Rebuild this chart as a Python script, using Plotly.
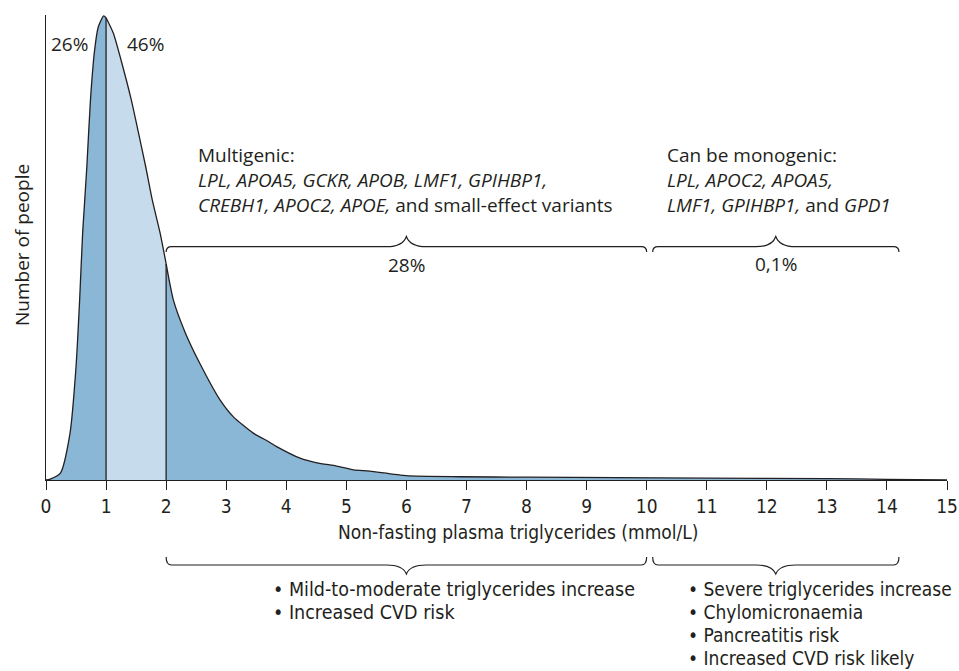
import plotly.graph_objects as go

# ---- data ----
tg_mmol = [0, 0.07, 0.24, 0.40, 0.50, 0.56, 0.61, 0.68, 0.74, 0.81, 0.87, 0.96, 1.0,
           1.12, 1.28, 1.42, 1.54, 1.66, 1.77, 1.90, 2.0, 2.12, 2.32, 2.59, 2.90, 3.12,
           3.45, 3.70, 3.84, 4.23, 4.51, 4.84, 5.12, 5.39, 6.0, 6.89, 8.0, 9.5, 11.0,
           13.0, 14.0, 15.0]
people = [0, 0.2, 1.5, 10.1, 24.4, 38.8, 53.2, 67.5, 81.9, 92.7, 97.6, 100, 99.6,
          96.3, 89.0, 81.9, 74.8, 67.5, 60.3, 53.2, 46.6, 38.8, 31.7, 24.4, 17.2, 13.6,
          10.1, 8.3, 7.2, 4.7, 3.7, 3.0, 2.2, 1.9, 0.93, 0.7, 0.6, 0.5, 0.4,
          0.28, 0.15, 0]
band_edges = [0, 1, 2, 15]
band_shares = ["26%", "46%", "28%"]
band_colors = ["#8bb7d6", "#c6dcec", "#8bb7d6"]
tick_vals = list(range(0, 16))
brace_ranges = [(2.0, 10.0), (10.1, 14.2)]
brace_shares = ["28%", "0,1%"]

INK = "#231f20"
REG = "Open Sans, Noto Sans, sans-serif"
NAR = "Liberation Sans Narrow, DejaVu Sans Condensed, Arial Narrow, sans-serif"

fig = go.Figure()

# filled bands
for i in range(len(band_edges) - 1):
    lo, hi = band_edges[i], band_edges[i + 1]
    xs = [x for x in tg_mmol if lo <= x <= hi]
    ys = [y for x, y in zip(tg_mmol, people) if lo <= x <= hi]
    fig.add_trace(go.Scatter(x=xs, y=ys, mode="lines", fill="tozeroy",
                             fillcolor=band_colors[i],
                             line=dict(color=INK, width=1.3, shape="spline", smoothing=0.6),
                             hoverinfo="skip", showlegend=False))

# vertical separators at band edges
for e in band_edges[1:-1]:
    h = people[tg_mmol.index(e)]
    fig.add_trace(go.Scatter(x=[e, e], y=[0, h], mode="lines",
                             line=dict(color=INK, width=1.3),
                             hoverinfo="skip", showlegend=False))

L, R, T, B = 46, 12, 15, 191
W, H = 959, 671
pw, ph = W - L - R, H - T - B


def xp(px):
    return (px - L) / pw


def yp(py):
    return (H - B - py) / ph


def brace(x0, x1, yl, ye, yt):
    xm = (x0 + x1) / 2
    r = 0.09
    tw = 0.33
    ym = (yl + yt) / 2
    return (f"M {x0},{ye} Q {x0},{yl} {x0 + r},{yl} L {xm - tw},{yl} "
            f"C {xm - tw * 0.35},{yl} {xm - 0.03},{ym} {xm},{yt} "
            f"C {xm + 0.03},{ym} {xm + tw * 0.35},{yl} {xm + tw},{yl} "
            f"L {x1 - r},{yl} Q {x1},{yl} {x1},{ye}")


shapes = []
for (a, b) in brace_ranges:
    # upper brace (tip up)
    shapes.append(dict(type="path", xref="x", yref="paper",
                       path=brace(a, b, yp(246.7), yp(252), yp(236.5)),
                       line=dict(color=INK, width=1.2)))
    # lower brace (tip down)
    shapes.append(dict(type="path", xref="x", yref="paper",
                       path=brace(a, b, yp(565), yp(557), yp(574)),
                       line=dict(color=INK, width=1.2)))

ann = []


def text(s, x, y, size=19, fam=REG, xanchor="left", **kw):
    ann.append(dict(text=s, x=x, y=y, xref="paper", yref="paper", showarrow=False,
                    xanchor=xanchor, yanchor="middle",
                    font=dict(family=fam, size=size, color=INK), **kw))


# band share labels
text(band_shares[0], xp(69), yp(44), xanchor="center")
text(band_shares[1], xp(145), yp(44), xanchor="center")
for (a, b), s, py in zip(brace_ranges, brace_shares, [265, 264]):
    ann.append(dict(text=s, x=(a + b) / 2, y=yp(py), xref="x", yref="paper",
                    showarrow=False, xanchor="center", yanchor="middle",
                    font=dict(family=REG, size=19, color=INK)))

# gene lists
text("Multigenic:", xp(196), yp(155))
text("<i>LPL, APOA5, GCKR, APOB, LMF1, GPIHBP1,</i>", xp(196), yp(180))
text("<i>CREBH1, APOC2, APOE,</i> and small-effect variants", xp(196), yp(205))
text("Can be monogenic:", xp(665), yp(155))
text("<i>LPL, APOC2, APOA5,</i>", xp(665), yp(180))
text("<i>LMF1, GPIHBP1,</i> and <i>GPD1</i>", xp(665), yp(205))

# axis titles
text("Non-fasting plasma triglycerides (mmol/L)", xp(518), yp(532), size=19,
     fam=NAR, xanchor="center")
text("Number of people", xp(22), yp(245), size=19, xanchor="center", textangle=-90)

# consequences
for i, s in enumerate(["• Mild-to-moderate triglycerides increase", "• Increased CVD risk"]):
    text(s, xp(271), yp(589 + 23.5 * i), size=19.5, fam=NAR)
for i, s in enumerate(["• Severe triglycerides increase", "• Chylomicronaemia",
                       "• Pancreatitis risk", "• Increased CVD risk likely"]):
    text(s, xp(686), yp(589 + 23 * i), size=19, fam=NAR)

fig.update_layout(
    width=W, height=H, autosize=False,
    margin=dict(l=L, r=R, t=T, b=B, autoexpand=False),
    paper_bgcolor="white", plot_bgcolor="white",
    shapes=shapes, annotations=ann,
    xaxis=dict(range=[0, 15], tickvals=tick_vals, ticks="outside", ticklen=9,
               tickwidth=1.2, tickcolor=INK, showline=True, linecolor=INK, linewidth=1.3,
               showgrid=False, zeroline=False, automargin=False,
               tickfont=dict(family=NAR, size=19, color=INK)),
    yaxis=dict(range=[0, 100.2], showticklabels=False, ticks="", showline=True,
               linecolor=INK, linewidth=1.3, showgrid=False, zeroline=False,
               automargin=False),
)

fig.write_html(
    "out.html",
    config={"displayModeBar": False, "responsive": False},
    post_script=("document.body.style.margin='0';"
                 "document.body.style.overflow='hidden';"
                 "var gd=document.getElementById('{plot_id}');"
                 "Plotly.relayout(gd,{width:959,height:671});"),
)
